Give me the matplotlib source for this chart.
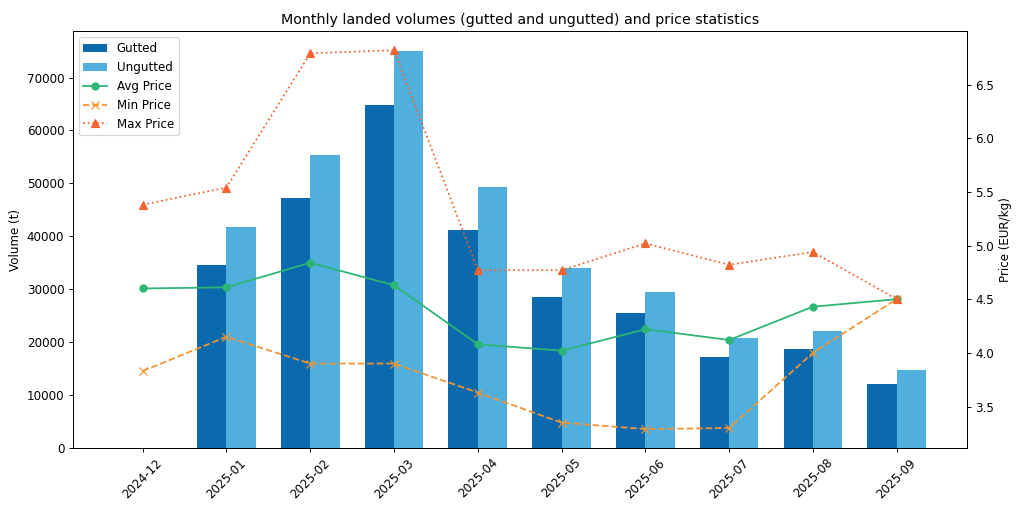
import numpy as np
import matplotlib.pyplot as plt

months = ['2024-12', '2025-01', '2025-02', '2025-03', '2025-04',
          '2025-05', '2025-06', '2025-07', '2025-08', '2025-09']
gutted = [0, 34600, 47200, 64800, 41200, 28500, 25500, 17200, 18700, 12100]
ungutted = [0, 41800, 55300, 75000, 49300, 34100, 29400, 20700, 22100, 14700]
avg_price = [4.60, 4.61, 4.84, 4.63, 4.08, 4.02, 4.22, 4.12, 4.43, 4.50]
min_price = [3.83, 4.15, 3.90, 3.90, 3.63, 3.35, 3.29, 3.30, 4.00, 4.50]
max_price = [5.38, 5.54, 6.79, 6.82, 4.77, 4.77, 5.02, 4.82, 4.94, 4.50]

x = np.arange(len(months))
w = 0.35

fig, ax1 = plt.subplots(figsize=(12, 6), dpi=1024 / 12)
fig.subplots_adjust(left=0.071, right=0.944, top=0.939, bottom=0.125)

b1 = ax1.bar(x - w / 2, gutted, w, color='#0a6aad', label='Gutted')
b2 = ax1.bar(x + w / 2, ungutted, w, color='#50afdd', label='Ungutted')
ax1.set_ylabel('Volume (t)')
ax1.set_xticks(x)
ax1.set_xticklabels(months, rotation=45)

ax2 = ax1.twinx()
l1, = ax2.plot(x, avg_price, color='#2bb673', marker='o', label='Avg Price')
l2, = ax2.plot(x, min_price, color='#f39433', marker='x', linestyle='--', label='Min Price')
l3, = ax2.plot(x, max_price, color='#f26430', marker='^', linestyle=':', label='Max Price')
ax2.set_ylabel('Price (EUR/kg)')

ax1.legend(handles=[b1, b2, l1, l2, l3], loc='upper left')
ax1.set_title('Monthly landed volumes (gutted and ungutted) and price statistics')

fig.savefig('out.png', dpi=1024 / 12)
